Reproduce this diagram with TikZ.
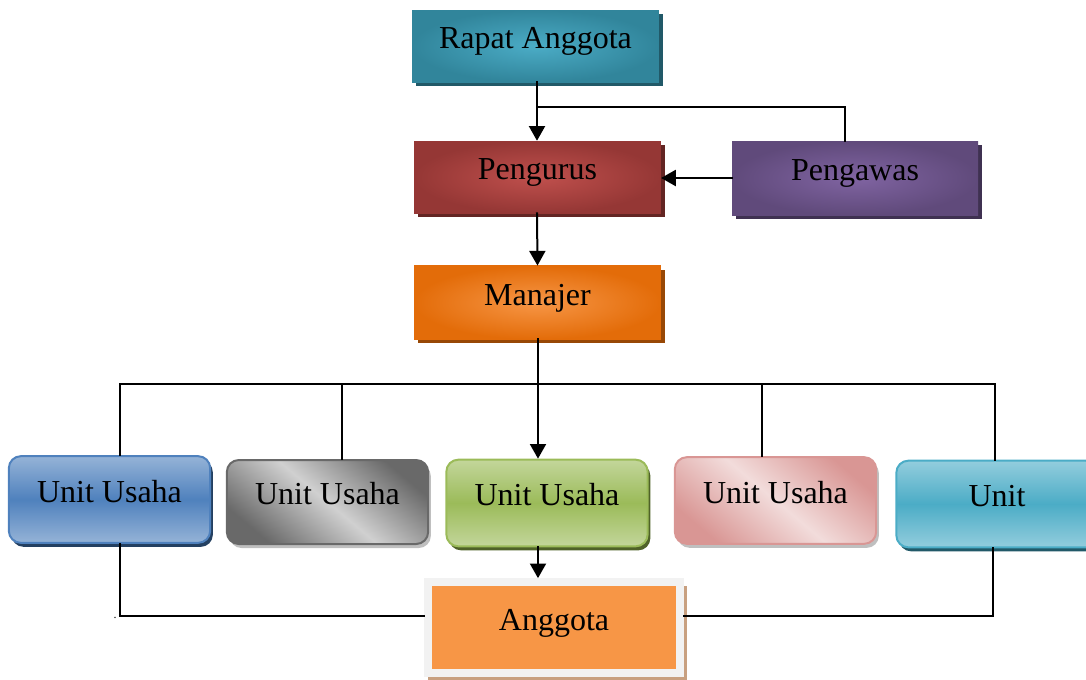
\documentclass[tikz,border=0pt]{standalone}
\usepackage{fontspec}
\setmainfont{Liberation Serif}
\usepackage{tikz}
\usetikzlibrary{arrows.meta,shadows}
\definecolor{rapatout}{RGB}{49,133,155}
\definecolor{rapatin}{RGB}{75,172,198}
\definecolor{rapatsh}{RGB}{33,89,104}
\definecolor{pengout}{RGB}{149,55,53}
\definecolor{pengin}{RGB}{192,80,77}
\definecolor{pengsh}{RGB}{99,37,35}
\definecolor{awasout}{RGB}{96,74,123}
\definecolor{awasin}{RGB}{128,100,162}
\definecolor{awassh}{RGB}{63,49,81}
\definecolor{manout}{RGB}{227,108,9}
\definecolor{manin}{RGB}{247,150,70}
\definecolor{mansh}{RGB}{152,72,6}
\definecolor{bluelt}{RGB}{149,179,215}
\definecolor{bluedk}{RGB}{79,129,189}
\definecolor{bluesh}{RGB}{36,64,97}
\definecolor{greenlt}{RGB}{195,214,155}
\definecolor{greendk}{RGB}{155,187,89}
\definecolor{greensh}{RGB}{79,98,40}
\definecolor{pinklt}{RGB}{242,220,219}
\definecolor{pinkdk}{RGB}{217,150,148}
\definecolor{cyanlt}{RGB}{147,205,221}
\definecolor{cyandk}{RGB}{75,172,198}
\definecolor{cyansh}{RGB}{33,89,104}
\definecolor{greylt}{RGB}{208,208,208}
\definecolor{greydk}{RGB}{105,105,105}
\definecolor{anggc}{RGB}{247,150,70}
\definecolor{anggsh}{RGB}{200,160,128}

\tikzset{
  box/.style={rectangle, minimum width=185pt, minimum height=54pt, inner sep=0pt,
    text height=0.7em, text depth=0.32em, font=\fontsize{24}{28}\selectfont},
  unitbox/.style={box, rounded corners=9pt, minimum width=151pt, minimum height=65pt, line width=1.5pt},
  line/.style={line width=1.5pt},
  arr/.style={line, -{Triangle[length=11pt,width=12pt]}}
}

\begin{document}
\begin{tikzpicture}[line cap=rect,line join=miter,x=0.75pt,y=-0.75pt]
	\useasboundingbox (0,0) rectangle (1086,679);
	% top of the chart
	\node[box, shading=radial, inner color=rapatin, outer color=rapatout,
	  drop shadow={shadow xshift=3pt,shadow yshift=-3pt,fill=rapatsh,opacity=1}] (rapat) at (535.5,46) {Rapat Anggota};
	\node[box, shading=radial, inner color=pengin, outer color=pengout,
	  drop shadow={shadow xshift=3pt,shadow yshift=-3pt,fill=pengsh,opacity=1}] (pengurus) at (537.5,177) {Pengurus};
	\node[box, minimum width=184.5pt, minimum height=55.5pt, shading=radial, inner color=awasin, outer color=awasout,
	  drop shadow={shadow xshift=3pt,shadow yshift=-3pt,fill=awassh,opacity=1}] (pengawas) at (855,178) {Pengawas};
	\node[box, minimum height=55pt, shading=radial, inner color=manin, outer color=manout,
	  drop shadow={shadow xshift=3pt,shadow yshift=-3pt,fill=mansh,opacity=1}] (manajer) at (537.5,302.5) {Manajer};
	% unit usaha
	\node[unitbox, draw=bluedk, top color=bluelt, bottom color=bluelt, middle color=bluedk,
	  drop shadow={shadow xshift=2pt,shadow yshift=-3pt,fill=bluesh,opacity=1}] (u1) at (109.5,499.5) {Unit Usaha};
	\node[unitbox, minimum height=63pt, draw=greydk, top color=greydk, bottom color=greydk, middle color=greylt, shading angle=-40,
	  drop shadow={shadow xshift=2pt,shadow yshift=-3pt,fill=black,opacity=0.25}] (u2) at (327.5,502) {Unit Usaha};
	\node[unitbox, draw=greendk, top color=greenlt, bottom color=greenlt, middle color=greendk,
	  drop shadow={shadow xshift=2pt,shadow yshift=-3pt,fill=greensh,opacity=1}] (u3) at (547,503) {Unit Usaha};
	\node[unitbox, draw=pinkdk, top color=pinkdk, bottom color=pinkdk, middle color=pinklt, shading angle=-40,
	  drop shadow={shadow xshift=2pt,shadow yshift=-3pt,fill=black,opacity=0.25}] (u4) at (775.5,500.5) {Unit Usaha};
	\node[unitbox, draw=cyandk, top color=cyanlt, bottom color=cyanlt, middle color=cyandk,
	  drop shadow={shadow xshift=2pt,shadow yshift=-3pt,fill=cyansh,opacity=1}] (u5) at (997,504) {Unit};
	% anggota
	\fill[anggsh] (428,586) rectangle (687,682);
	\node[box, minimum width=189pt, minimum height=68pt, fill=anggc, draw=gray!10, line width=6pt] (anggota) at (554,627.5) {Anggota};
	\node[font=\small] (titik) at (115,618) {.};
	% connectors
	\coordinate (j1) at (537,107);
	\coordinate (bus) at (538,384);
	\coordinate (b1) at (120,384);
	\coordinate (b2) at (342,384);
	\coordinate (b4) at (762,384);
	\coordinate (b5) at (995,384);
	\coordinate (k1) at (120,616);
	\coordinate (k5) at (993,616);
	\draw[arr] (rapat.south -| j1) -- (pengurus.north -| j1);
	\draw[line] (j1) -| ([xshift=-7.5pt]pengawas.north);
	\draw[arr] (pengawas.west) -- (pengurus.east |- pengawas.west);
	\draw[arr] (pengurus.south -| j1) -- (manajer.north);
	\draw[line] (manajer.south -| bus) -- (bus);
	\draw[line] (b1) -- (b5);
	\draw[line] (b1) -- (b1 |- u1.north);
	\draw[line] (b2) -- (b2 |- u2.north);
	\draw[arr] (bus) -- (bus |- u3.north);
	\draw[line] (b4) -- (b4 |- u4.north);
	\draw[line] (b5) -- (b5 |- u5.north);
	\draw[arr] (u3.south -| bus) -- (anggota.north -| bus);
	\draw[line] (k1 |- u1.south) -- (k1) -- (k1 -| anggota.west);
	\draw[line] (k5 |- u5.south) -- (k5) -- (k5 -| anggota.east);
\end{tikzpicture}
\end{document}
